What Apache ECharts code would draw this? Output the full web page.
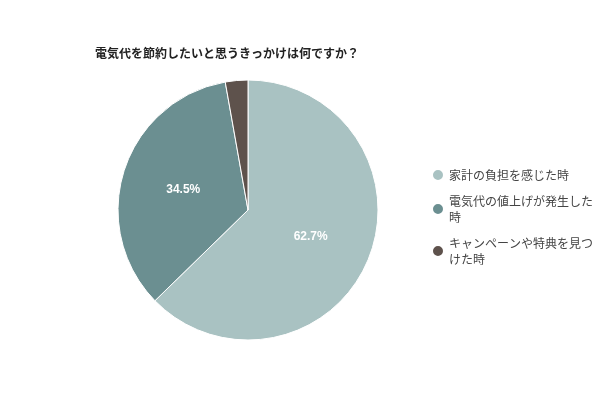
<!DOCTYPE html>
<html><head><meta charset="utf-8">
<script src="https://cdn.jsdelivr.net/npm/echarts@6/dist/echarts.min.js"></script>
<style>html,body{margin:0;padding:0;background:#fff}#c{width:600px;height:400px}</style>
</head><body><div id="c"></div>
<script>
const categories = ['家計の負担を感じた時', '電気代の値上げが発生した時', 'キャンペーンや特典を見つけた時'];
const values = [62.7, 34.5, 2.8];
const colors = ['#a9c2c2', '#6b8f91', '#5e524c'];
const chart = echarts.init(document.getElementById('c'));
chart.setOption({
  color: colors,
  title: { text: '電気代を節約したいと思うきっかけは何ですか？', left: 90, top: 42,
    textStyle: { fontSize: 12, fontWeight: 'bold', color: '#222', fontFamily: 'Noto Sans CJK JP' } },
  legend: { orient: 'vertical', left: 426, top: 162, icon: 'circle', itemWidth: 12, itemHeight: 12, itemGap: 10,
    textStyle: { fontSize: 12, color: '#444', width: 150, overflow: 'break', lineHeight: 16, fontFamily: 'Noto Sans CJK JP' } },
  series: [{
    type: 'pie', center: [248, 210], radius: [0, 130], startAngle: 90, clockwise: true,
    itemStyle: { borderColor: '#fff', borderWidth: 1 },
    label: { position: 'inside', color: '#fff', fontSize: 12, fontWeight: 'bold',
      formatter: p => p.value > 5 ? p.value.toFixed(1) + '%' : '' },
    labelLine: { show: false },
    data: categories.map((c, i) => ({ name: c, value: values[i] }))
  }]
});
</script></body></html>
